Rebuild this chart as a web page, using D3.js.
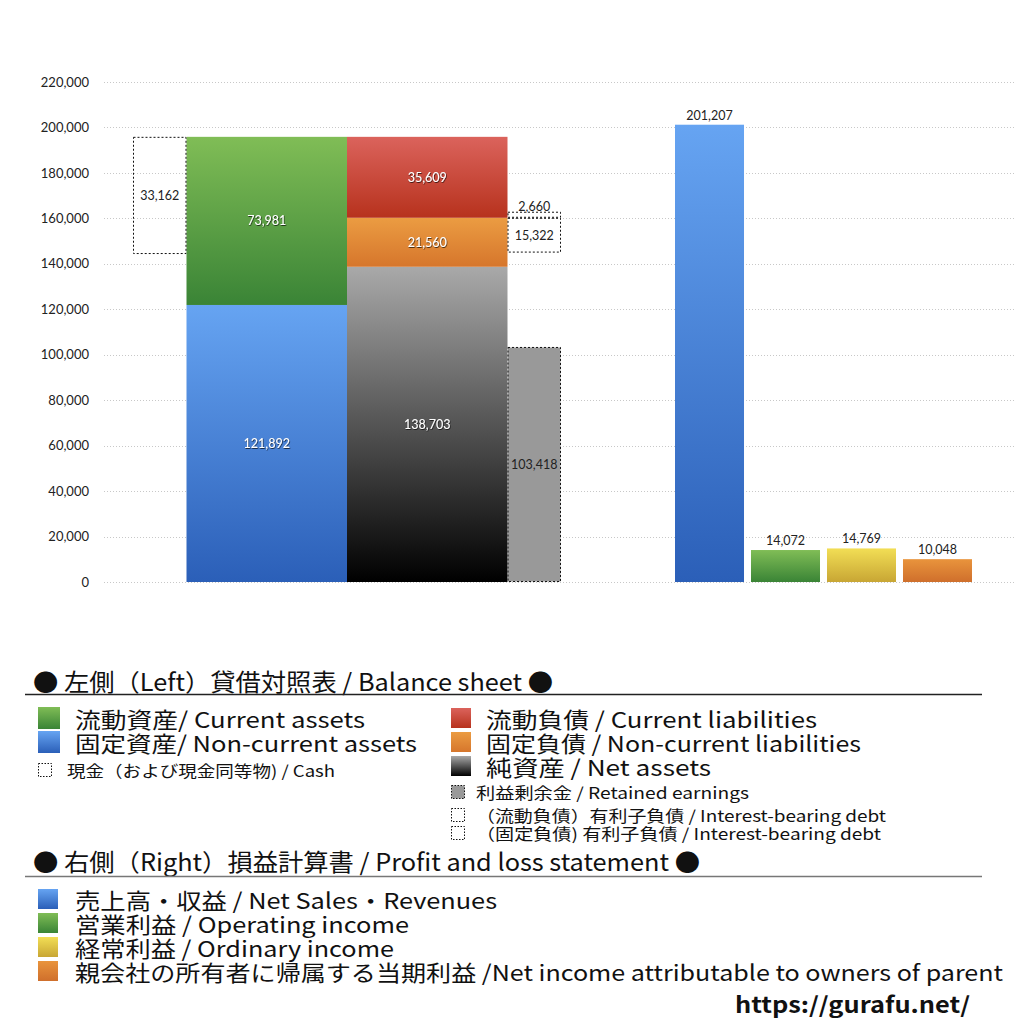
<!DOCTYPE html>
<html>
<head>
<meta charset="utf-8">
<script src="https://cdn.jsdelivr.net/npm/d3@7"></script>
<style>
  body { margin: 0; background: #fff; }
  svg { display: block; font-family: "Noto Sans CJK JP", "Noto Sans", sans-serif; }
</style>
</head>
<body>
<div id="chart"></div>
<script>
// Balance sheet (left)
const assetKeys = ["nonCurrentAssets", "currentAssets"];
const assetValues = [121892, 73981];
const liabKeys = ["netAssets", "nonCurrentLiab", "currentLiab"];
const liabValues = [138703, 21560, 35609];
const cashValue = 33162;
const cashBoxBottom = 144300;      // box bottom as drawn in the picture
const retainedEarnings = 103418;
const currentDebt = 2660;
const nonCurrentDebt = 15322;

// Profit and loss (right)
const plKeys = ["sales", "operating", "ordinary", "netIncome"];
const plValues = [201207, 14072, 14769, 10048];

const yTicks = [0, 20000, 40000, 60000, 80000, 100000, 120000, 140000, 160000, 180000, 200000, 220000];

const width = 1024, height = 1024;
const fmt = d3.format(",");
const numFont = "Lato, 'Noto Sans', sans-serif";

const svg = d3.select("#chart").append("svg")
  .attr("width", width).attr("height", height)
  .attr("viewBox", `0 0 ${width} ${height}`);

const defs = svg.append("defs");
function grad(id, top, bottom) {
  const g = defs.append("linearGradient").attr("id", id)
    .attr("x1", 0).attr("y1", 0).attr("x2", 0).attr("y2", 1);
  g.append("stop").attr("offset", "0%").attr("stop-color", top);
  g.append("stop").attr("offset", "100%").attr("stop-color", bottom);
}
grad("gBlue", "#66a4f2", "#2b5fb8");
grad("gGreen", "#80bd56", "#3a8436");
grad("gRed", "#db635c", "#b7321d");
grad("gOrange", "#eb9c42", "#d6762c");
grad("gGray", "#a9a9a9", "#000000");
grad("gYellow", "#f2de55", "#c8a634");
grad("gOrange2", "#e9943c", "#cf6f2c");

const shadow = defs.append("filter").attr("id", "shadow")
  .attr("x", "-20%").attr("y", "-40%").attr("width", "140%").attr("height", "180%");
shadow.append("feDropShadow").attr("dx", 0.6).attr("dy", 0.8)
  .attr("stdDeviation", 0.5).attr("flood-color", "#000").attr("flood-opacity", 0.8);

const fills = {
  nonCurrentAssets: "url(#gBlue)", currentAssets: "url(#gGreen)",
  netAssets: "url(#gGray)", nonCurrentLiab: "url(#gOrange)", currentLiab: "url(#gRed)",
  sales: "url(#gBlue)", operating: "url(#gGreen)", ordinary: "url(#gYellow)", netIncome: "url(#gOrange2)"
};

// scales
const y = d3.scaleLinear().domain([0, 220000]).range([582, 82]);
// left block in column units: cash [0,1], assets [1,4], liabilities [4,7], extras [7,8]
const xu = d3.scaleLinear().domain([0, 8]).range([133, 561]);
const xr = d3.scaleBand().domain(plKeys).range([675, 972]).paddingInner(0.092).paddingOuter(0);

// grid
const grid = svg.append("g");
yTicks.forEach(t => {
  grid.append("line")
    .attr("x1", 104).attr("x2", 1016)
    .attr("y1", Math.round(y(t)) + 0.5).attr("y2", Math.round(y(t)) + 0.5)
    .attr("stroke", "#c8c8c8").attr("stroke-width", 1)
    .attr("stroke-dasharray", "1,2");
});

// axis
const yAxis = d3.axisLeft(y).tickValues(yTicks).tickFormat(fmt).tickSize(0).tickPadding(15);
const ax = svg.append("g").attr("transform", "translate(104,0)").call(yAxis);
ax.select(".domain").remove();
ax.selectAll("text").attr("font-size", 13).attr("fill", "#222").attr("font-family", numFont);

const marks = svg.append("g");
const labels = svg.append("g");

function stack(keys, values, x0, x1) {
  let base = 0;
  keys.forEach((k, i) => {
    const v = values[i];
    marks.append("rect")
      .attr("x", xu(x0)).attr("width", xu(x1) - xu(x0))
      .attr("y", y(base + v)).attr("height", y(base) - y(base + v))
      .attr("fill", fills[k]);
    labels.append("text")
      .attr("x", (xu(x0) + xu(x1)) / 2).attr("y", y(base + v / 2))
      .attr("text-anchor", "middle").attr("dominant-baseline", "central")
      .attr("font-size", 12.5).attr("fill", "#fff")
      .attr("font-family", numFont)
      .attr("filter", "url(#shadow)")
      .text(fmt(v));
    base += v;
  });
  return base;
}

const totalAssets = stack(assetKeys, assetValues, 1, 4);
stack(liabKeys, liabValues, 4, 7);

function dotted(x0, x1, v0, v1, fill) {
  marks.append("rect")
    .attr("x", xu(x0) + 0.5).attr("width", xu(x1) - xu(x0) - 1)
    .attr("y", y(v1) + 0.5).attr("height", y(v0) - y(v1) - 1)
    .attr("fill", fill).attr("stroke", "#111").attr("stroke-width", 1)
    .attr("stroke-dasharray", "2,2");
}
function darkLabel(x, v, text) {
  labels.append("text")
    .attr("x", x).attr("y", y(v))
    .attr("text-anchor", "middle").attr("dominant-baseline", "central")
    .attr("font-size", 12.5).attr("fill", "#222")
    .attr("font-family", numFont)
    .text(text);
}

// cash box
dotted(0, 1, cashBoxBottom, totalAssets, "none");
darkLabel((xu(0) + xu(1)) / 2, (cashBoxBottom + totalAssets) / 2, fmt(cashValue));

// retained earnings
dotted(7, 8, 0, retainedEarnings, "#999999");
darkLabel((xu(7) + xu(8)) / 2, retainedEarnings / 2, fmt(retainedEarnings));

// interest-bearing debt boxes at the current / non-current liabilities boundary
const boundary = liabValues[0] + liabValues[1];
dotted(7, 8, boundary - nonCurrentDebt, boundary, "none");
dotted(7, 8, boundary, boundary + currentDebt, "none");
darkLabel((xu(7) + xu(8)) / 2, boundary - nonCurrentDebt / 2, fmt(nonCurrentDebt));
labels.append("text")
  .attr("x", (xu(7) + xu(8)) / 2).attr("y", y(boundary + currentDebt) - 1)
  .attr("text-anchor", "middle")
  .attr("font-size", 12.5).attr("fill", "#222")
  .attr("font-family", numFont)
  .text(fmt(currentDebt));

// P&L bars
plKeys.forEach((k, i) => {
  const v = plValues[i];
  marks.append("rect")
    .attr("x", xr(k)).attr("width", xr.bandwidth())
    .attr("y", y(v)).attr("height", y(0) - y(v))
    .attr("fill", fills[k]);
  labels.append("text")
    .attr("x", xr(k) + xr.bandwidth() / 2).attr("y", y(v) - 5)
    .attr("text-anchor", "middle")
    .attr("font-size", 12.5).attr("fill", "#222")
    .attr("font-family", numFont)
    .text(fmt(v));
});

// legend
const lg = svg.append("g");
function ltext(x, yy, size, text, len, opts) {
  const t = lg.append("text").attr("x", x).attr("y", yy)
    .attr("dominant-baseline", "central")
    .attr("font-size", size).attr("fill", "#111").text(text);
  if (len) t.attr("textLength", len).attr("lengthAdjust", "spacingAndGlyphs");
  if (opts && opts.bold) t.attr("font-weight", "bold");
  return t;
}
function lsq(x, yy, s, fill, dashed) {
  const r = lg.append("rect").attr("x", x).attr("y", yy - s / 2).attr("width", s).attr("height", s)
    .attr("fill", fill);
  if (dashed) r.attr("x", x + 0.5).attr("y", yy - s / 2 + 0.5).attr("width", s - 1).attr("height", s - 1)
    .attr("stroke", "#111").attr("stroke-width", 1).attr("stroke-dasharray", "1.5,1.5");
}

ltext(33, 680, 24, "● 左側（Left）貸借対照表 / Balance sheet ●", 520);
lg.append("line").attr("x1", 25).attr("x2", 982).attr("y1", 694.5).attr("y2", 694.5)
  .attr("stroke", "#222").attr("stroke-width", 1.3);

lsq(38, 718, 22, "url(#gGreen)");
ltext(75, 718, 22, "流動資産/ Current assets", 290);
lsq(38, 742, 22, "url(#gBlue)");
ltext(75, 742, 22, "固定資産/ Non-current assets", 342);
lsq(38, 770, 14, "none", true);
ltext(67, 770, 16, "現金（および現金同等物) / Cash", 268);

lsq(451, 718, 20, "url(#gRed)");
ltext(486, 718, 22, "流動負債 /  Current liabilities", 331);
lsq(451, 742, 20, "url(#gOrange)");
ltext(486, 742, 22, "固定負債 / Non-current liabilities", 375);
lsq(451, 766, 20, "url(#gGray)");
ltext(486, 766, 22, "純資産 / Net assets", 225);
lsq(451, 792, 14, "#999", true);
ltext(476, 792, 16, "利益剰余金 / Retained earnings", 273);
lsq(451, 815, 14, "none", true);
ltext(476, 815, 16, "（流動負債）有利子負債 / Interest-bearing debt", 410);
lsq(451, 833, 14, "none", true);
ltext(476, 833, 16, "（固定負債) 有利子負債 / Interest-bearing debt", 405);

ltext(33, 860, 24, "● 右側（Right）損益計算書 / Profit and loss statement ●", 667);
lg.append("line").attr("x1", 25).attr("x2", 982).attr("y1", 876.5).attr("y2", 876.5)
  .attr("stroke", "#777").attr("stroke-width", 1.5);

lsq(38, 899, 20, "url(#gBlue)");
ltext(75, 899, 22, "売上高・収益 / Net Sales・Revenues", 422);
lsq(38, 923, 20, "url(#gGreen)");
ltext(75, 923, 22, "営業利益 / Operating income", 334);
lsq(38, 947, 20, "url(#gYellow)");
ltext(75, 947, 22, "経常利益 / Ordinary income", 319);
lsq(38, 971, 20, "url(#gOrange2)");
ltext(75, 971, 22, "親会社の所有者に帰属する当期利益 /Net income attributable to owners of parent", 928);

ltext(735, 1003, 22, "https://gurafu.net/", 235, { bold: true });
</script>
</body>
</html>
